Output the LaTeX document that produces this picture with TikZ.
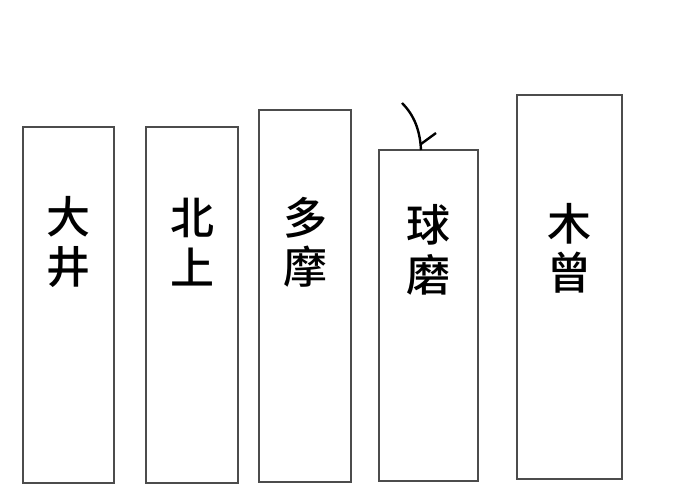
\documentclass[tikz,border=0pt]{standalone}
\usepackage{fontspec}
\newfontfamily\cjk{Noto Sans CJK SC Medium}
\begin{document}
\begin{tikzpicture}[x=0.75pt,y=-0.75pt,
  col/.style={draw=black!70,line width=0.8pt},
  lbl/.style={font=\cjk\fontsize{33}{37}\selectfont,align=center,inner sep=0pt}]
\useasboundingbox (0,0) rectangle (688,503);
\draw[col] (23,127) rectangle (114,483);
\draw[col] (146,127) rectangle (238,483);
\draw[col] (259,110) rectangle (351,482);
\draw[col] (379,150) rectangle (478,481);
\draw[col] (517,95) rectangle (622,479);
\node[lbl] (a) at (68,242) {大\\井};
\node[lbl] (b) at (192,242) {北\\上};
\node[lbl] (c) at (305,242) {多\\摩};
\node[lbl] (d) at (428,250) {球\\磨};
\node[lbl] (e) at (569,248) {木\\曾};
\coordinate (s) at (402,103);
\coordinate (t) at (421,150);
\draw[line width=1.8pt] (s) .. controls (414,115) and (420,130) .. (t);
\draw[line width=1.8pt] (421,144) -- (436,133);
\end{tikzpicture}
\end{document}
